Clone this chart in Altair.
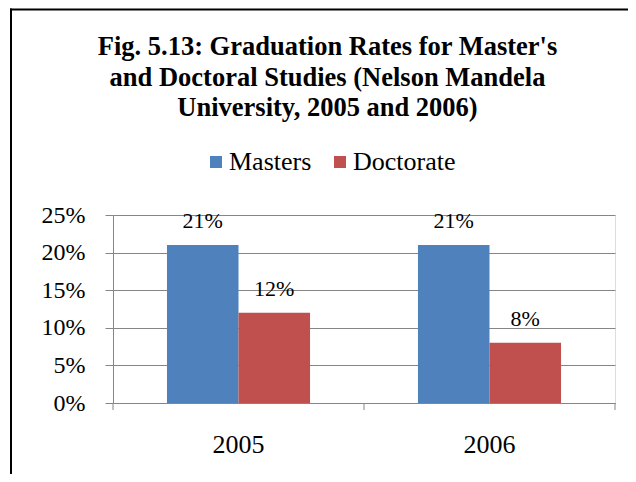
import altair as alt
import pandas as pd

YEARS = ["2005", "2006"]
SERIES = ["Masters", "Doctorate"]
MASTERS = [0.21, 0.21]
DOCTORATE = [0.12, 0.08]
COLORS = ["#4F81BD", "#C0504D"]
Y_TICKS = [0, 0.05, 0.10, 0.15, 0.20, 0.25]
TITLE_LINES = [
    "Fig. 5.13: Graduation Rates for Master's",
    "and Doctoral Studies (Nelson Mandela",
    "University, 2005 and 2006)",
]

rows = []
for i, yr in enumerate(YEARS):
    rows.append({"year": yr, "series": "Masters", "value": MASTERS[i]})
    rows.append({"year": yr, "series": "Doctorate", "value": DOCTORATE[i]})
df = pd.DataFrame(rows)

W, H = 502, 188
GRAY = "#868686"
SERIF = "Liberation Serif"

x_enc = alt.X(
    "year:N",
    sort=YEARS,
    scale=alt.Scale(paddingInner=0.43, paddingOuter=0.215),
    axis=alt.Axis(
        title=None, labelAngle=0, ticks=False, tickSize=0, domain=True,
        domainColor=GRAY, domainWidth=1, labelFont=SERIF, labelFontSize=26,
        labelColor="#000000", labelPadding=28, labelBaseline="top",
        grid=False,
    ),
)
xoff = alt.XOffset("series:N", sort=SERIES, scale=alt.Scale(domain=SERIES))
y_enc = alt.Y(
    "value:Q",
    scale=alt.Scale(domain=[0, 0.25], nice=False),
    axis=alt.Axis(
        title=None, format=".0%", values=Y_TICKS, tickSize=8, tickColor=GRAY,
        domainColor=GRAY, gridColor=GRAY, gridWidth=1, labelFont=SERIF,
        labelFontSize=24, labelColor="#000000", labelPadding=20,
        labelBound=False, labelFlush=False, labelOverlap=False,
    ),
)

bars = alt.Chart(df).mark_bar().encode(
    x=x_enc,
    xOffset=xoff,
    y=y_enc,
    color=alt.Color(
        "series:N",
        scale=alt.Scale(domain=SERIES, range=COLORS),
        legend=alt.Legend(
            title=None, orient="none", direction="horizontal",
            legendX=90, legendY=-66, symbolType="square", symbolSize=144,
            symbolStrokeWidth=0, labelFont=SERIF, labelFontSize=26,
            labelColor="#000000", labelOffset=0, columnPadding=15, padding=0,
        ),
    ),
)

labels = alt.Chart(df).mark_text(
    dy=-17, baseline="alphabetic", font=SERIF, fontSize=22, color="#000000"
).encode(
    x=x_enc,
    xOffset=xoff,
    y=y_enc,
    text=alt.Text("value:Q", format=".0%"),
)

one = pd.DataFrame({"k": [0]})
ticks = [
    alt.Chart(one).mark_rule(color=GRAY, strokeWidth=1).encode(
        x=alt.value(px), y=alt.value(H), y2=alt.value(H + 7)
    )
    for px in [0, W / 2, W]
]

border_left = alt.Chart(one).mark_rule(color="#000000", strokeWidth=2).encode(
    x=alt.value(-102), y=alt.value(-206.5), y2=alt.value(300)
)
border_top = alt.Chart(one).mark_rule(color="#000000", strokeWidth=2).encode(
    x=alt.value(-103), x2=alt.value(560), y=alt.value(-205.5)
)

title = alt.Chart(pd.DataFrame({"t": ["\n".join(TITLE_LINES)]})).mark_text(
    font=SERIF, fontSize=26.5, fontWeight="bold", align="center",
    baseline="alphabetic", lineBreak="\n", lineHeight=30.5, color="#000000",
).encode(x=alt.value(214.5), y=alt.value(-160), text="t:N")

chart = alt.layer(bars, labels, *ticks, border_left, border_top, title).properties(
    width=W, height=H,
    autosize=alt.AutoSizeParams(type="none"),
    padding={"left": 105, "top": 207, "right": 13, "bottom": 71},
).configure_view(stroke=None).configure(background="#ffffff")

chart.save("out.html", embed_options={"renderer": "svg", "actions": False})
